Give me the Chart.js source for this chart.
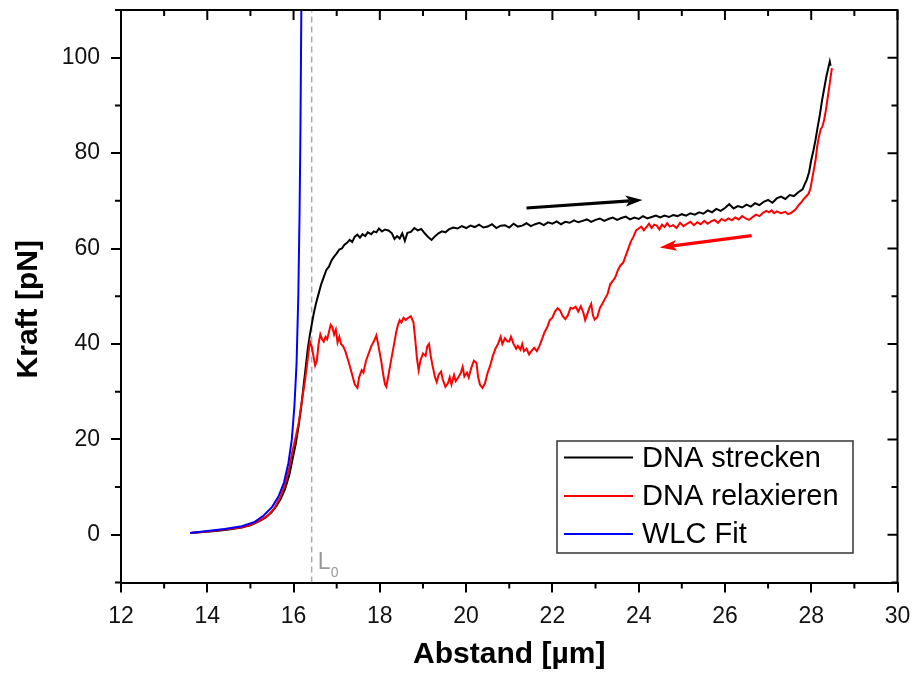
<!DOCTYPE html>
<html><head><meta charset="utf-8">
<script src="https://cdn.jsdelivr.net/npm/chart.js@4.4.1/dist/chart.umd.min.js"></script>
<style>html,body{margin:0;padding:0;background:#fff}#wrap{width:913px;height:677px;position:relative}</style>
</head><body><div id="wrap"><canvas id="c"></canvas></div>
<script>
const seriesNames = ['DNA strecken', 'DNA relaxieren', 'WLC Fit'];
const xTitle = 'Abstand [µm]';
const yTitle = 'Kraft [pN]';
const xTicks = [12, 14, 16, 18, 20, 22, 24, 26, 28, 30];
const yTicks = [0, 20, 40, 60, 80, 100];
const L0 = 16.42;

const streckenX = [13.6,13.9,14.2,14.5,14.8,15.0,15.2,15.35,15.5,15.6,15.7,15.8,15.9,15.98,16.05,16.12,16.18,16.23,16.28,16.33,16.38,16.42,16.47,16.52,16.58,16.64,16.7,16.76,16.82,16.88,16.94,17.0,17.06,17.12,17.18,17.24,17.3,17.36,17.42,17.48,17.54,17.6,17.66,17.72,17.8,17.86,17.92,17.98,18.05,18.12,18.2,18.28,18.34,18.4,18.46,18.52,18.58,18.64,18.72,18.8,18.88,18.96,19.04,19.12,19.2,19.28,19.36,19.44,19.52,19.6,19.7,19.8,19.9,20.0,20.1,20.2,20.3,20.4,20.5,20.6,20.7,20.8,20.9,21.0,21.1,21.2,21.3,21.4,21.5,21.6,21.7,21.8,21.9,22.0,22.1,22.2,22.3,22.4,22.5,22.6,22.7,22.8,22.9,23.0,23.1,23.2,23.3,23.4,23.5,23.6,23.7,23.8,23.9,24.0,24.1,24.2,24.3,24.4,24.5,24.6,24.7,24.8,24.9,25.0,25.1,25.2,25.3,25.4,25.5,25.6,25.7,25.8,25.9,26.0,26.1,26.2,26.3,26.4,26.5,26.6,26.7,26.8,26.9,27.0,27.1,27.2,27.3,27.4,27.5,27.6,27.7,27.8,27.85,27.9,27.95,28.0,28.05,28.1,28.15,28.2,28.25,28.3,28.35,28.4,28.43,28.45];
const streckenY = [0.4,0.6,0.8,1.1,1.5,2.0,2.8,3.6,4.8,6.0,7.5,9.5,12.5,16,19,23,27,31,35,39,42,44,46.5,48.5,50.5,52.5,54,55.5,56.2,57.5,58.3,59,59.8,60,60.8,61.2,61.8,61.4,62.5,62.9,62.3,63.0,62.6,63.4,63.0,63.6,63.4,64.2,63.6,64.0,63.8,63.2,62.0,62.6,62.1,63.2,61.6,63.3,63.5,64.3,63.8,64.1,63.2,62.4,61.8,62.6,63.2,63.6,63.4,64.0,64.4,64.2,64.7,64.3,64.8,64.5,65.0,64.4,64.6,65.1,64.3,64.8,64.9,64.4,65.2,64.6,64.8,65.3,64.7,65.1,65.4,64.9,65.5,65.2,65.7,65.1,65.6,65.4,65.9,65.5,65.8,66.1,65.6,66.0,66.3,65.8,66.2,66.5,66.0,66.4,66.7,66.1,66.5,66.2,66.8,66.3,66.6,66.9,66.5,66.9,66.6,67.0,66.8,67.2,66.9,67.4,67.1,67.6,67.3,68.0,67.6,68.3,67.9,68.5,69.3,68.4,68.9,68.6,69.2,68.8,69.5,69.1,69.8,70.2,69.6,70.5,70.9,70.4,71.2,71.0,71.8,72.4,73.5,74.5,76,78.5,80.5,82.8,85.5,88,91,93.5,96,98,99.2,98.3];

const relaxX = [13.6,13.9,14.2,14.5,14.8,15.0,15.2,15.4,15.55,15.7,15.8,15.9,15.98,16.05,16.12,16.2,16.26,16.31,16.35,16.38,16.42,16.46,16.5,16.54,16.58,16.62,16.66,16.7,16.74,16.78,16.82,16.86,16.9,16.94,16.98,17.02,17.06,17.1,17.15,17.2,17.25,17.3,17.36,17.42,17.48,17.52,17.58,17.62,17.68,17.74,17.8,17.86,17.92,17.96,18.0,18.04,18.08,18.12,18.15,18.2,18.26,18.32,18.38,18.42,18.46,18.5,18.55,18.6,18.66,18.72,18.78,18.82,18.86,18.9,18.94,19.0,19.06,19.1,19.14,19.18,19.22,19.28,19.32,19.36,19.42,19.46,19.52,19.58,19.62,19.66,19.72,19.76,19.82,19.88,19.92,19.96,20.02,20.06,20.12,20.18,20.24,20.28,20.32,20.38,20.44,20.5,20.56,20.62,20.68,20.74,20.8,20.84,20.9,20.96,21.0,21.04,21.1,21.16,21.2,21.26,21.3,21.34,21.4,21.46,21.52,21.58,21.64,21.7,21.76,21.82,21.88,21.94,22.0,22.06,22.12,22.18,22.24,22.3,22.36,22.42,22.48,22.54,22.6,22.66,22.72,22.76,22.8,22.86,22.9,22.94,22.98,23.04,23.1,23.16,23.22,23.28,23.34,23.4,23.46,23.52,23.58,23.64,23.7,23.76,23.82,23.88,23.94,24.0,24.06,24.12,24.18,24.24,24.3,24.36,24.42,24.48,24.54,24.6,24.66,24.72,24.8,24.88,24.96,25.04,25.12,25.2,25.28,25.36,25.44,25.52,25.6,25.68,25.76,25.84,25.92,26.0,26.08,26.16,26.24,26.32,26.4,26.48,26.56,26.64,26.72,26.8,26.88,26.96,27.02,27.08,27.14,27.2,27.3,27.4,27.46,27.52,27.58,27.64,27.7,27.76,27.82,27.88,27.94,27.98,28.02,28.06,28.1,28.14,28.18,28.22,28.26,28.3,28.34,28.38,28.42,28.45,28.48];
const relaxY = [0.4,0.6,0.9,1.2,1.6,2.1,2.9,4.0,5.5,8,10.5,14,17.8,20.5,23.5,28.5,32,35.5,38.5,40.5,39.5,37.5,35.5,36.5,40.0,42.0,41.0,40.5,41.5,41.0,42.5,44.0,43.5,42.0,43.0,40.3,41.5,40.0,39.5,38.5,37.0,35.5,33.5,31.5,30.8,33.0,34.5,34.0,36.5,38.0,39.5,40.5,41.8,40.0,38.0,36.0,33.5,31.5,31.0,33.5,36.5,39.5,42.5,44.0,45.0,44.5,45.5,45.0,45.5,45.8,44.5,41.0,37.0,34.5,36.5,38.0,37.5,39.5,40.0,37.5,35.5,33.0,32.0,33.5,34.2,32.5,31.0,31.8,33.0,31.5,33.5,32.2,33.0,34.0,35.2,33.2,34.0,33.0,35.0,36.5,36.0,33.0,31.5,30.8,31.8,34.0,35.5,37.5,39.0,40.0,41.5,40.0,41.2,40.5,40.5,41.5,40.0,39.0,39.6,38.8,40.0,38.5,39.0,37.8,38.6,39.2,38.5,39.6,41.0,42.5,43.5,45.0,45.5,46.8,47.5,47.0,45.8,45.2,46.0,47.6,47.4,47.8,46.8,47.9,46.5,45.0,46.0,47.6,48.4,46.0,45.1,45.6,47.5,48.5,49.5,50.5,52.5,53.2,54.0,55.5,56.5,57.0,58.5,60.0,61.5,62.5,63.8,64.2,64.6,63.8,64.5,65.2,64.3,65.0,64.8,64.0,65.0,64.5,65.3,64.6,64.9,64.3,65.4,64.7,65.2,65.6,64.9,65.5,65.1,65.8,65.2,65.7,66.0,65.4,66.2,65.8,66.3,65.9,66.5,66.1,66.8,66.3,66.0,66.6,67.1,66.8,67.5,67.9,67.6,68.0,67.4,67.8,67.4,67.7,67.2,67.4,67.8,68.2,69.0,69.6,70.3,70.9,71.5,72.5,74.5,76.5,78.5,81.5,83.5,85.0,85.6,87.0,89.0,91.5,94,96,97.8];

const wlcX = [13.6,14.0,14.4,14.8,15.1,15.3,15.5,15.65,15.78,15.88,15.96,16.02,16.07,16.11,16.14,16.16,16.18,16.2];
const wlcY = [0.4,0.8,1.2,1.8,2.7,4.0,5.8,8.0,11,15,20,27,36,50,68,85,110,130];

const arrowStreckenX = [21.40, 24.09];
const arrowStreckenY = [68.5, 70.2];
const arrowRelaxX = [26.62, 24.49];
const arrowRelaxY = [62.7, 60.2];

const toPts = (xs, ys) => xs.map((v, i) => ({x: v, y: ys[i]}));

function arrow(ctx, x0, y0, x1, y1, color) {
  const ang = Math.atan2(y1 - y0, x1 - x0);
  const hl = 17, hw = 5.5;
  const bx = x1 - hl * Math.cos(ang), by = y1 - hl * Math.sin(ang);
  ctx.strokeStyle = color; ctx.fillStyle = color; ctx.lineWidth = 3.2; ctx.lineCap = 'butt';
  ctx.beginPath(); ctx.moveTo(x0, y0); ctx.lineTo(bx + 4 * Math.cos(ang), by + 4 * Math.sin(ang)); ctx.stroke();
  ctx.beginPath();
  ctx.moveTo(x1, y1);
  ctx.lineTo(bx + hw * Math.sin(ang), by - hw * Math.cos(ang));
  ctx.lineTo(bx + 4 * Math.cos(ang), by + 4 * Math.sin(ang));
  ctx.lineTo(bx - hw * Math.sin(ang), by + hw * Math.cos(ang));
  ctx.closePath(); ctx.fill();
}

const decor = {
  id: 'decor',
  afterDatasetsDraw(chart) {
    const {ctx, chartArea: a, scales: {x, y}} = chart;
    ctx.save();
    arrow(ctx, x.getPixelForValue(arrowStreckenX[0]), y.getPixelForValue(arrowStreckenY[0]),
          x.getPixelForValue(arrowStreckenX[1]), y.getPixelForValue(arrowStreckenY[1]), '#000');
    arrow(ctx, x.getPixelForValue(arrowRelaxX[0]), y.getPixelForValue(arrowRelaxY[0]),
          x.getPixelForValue(arrowRelaxX[1]), y.getPixelForValue(arrowRelaxY[1]), '#ff0000');
    // L0 label
    const lx = x.getPixelForValue(L0);
    ctx.fillStyle = '#999';
    ctx.textBaseline = 'alphabetic'; ctx.textAlign = 'left';
    ctx.font = '23px "Liberation Sans", Arial, sans-serif';
    ctx.fillText('L', lx + 6, a.bottom - 13.5);
    ctx.font = '14px "Liberation Sans", Arial, sans-serif';
    ctx.fillText('0', lx + 19, a.bottom - 5.5);
    // frame: top and right
    ctx.strokeStyle = '#000'; ctx.lineWidth = 2;
    ctx.beginPath(); ctx.moveTo(a.left - 1, a.top); ctx.lineTo(a.right, a.top); ctx.lineTo(a.right, a.bottom + 1); ctx.stroke();
    // ticks
    ctx.beginPath();
    for (let v = 12; v <= 30; v += 1) {
      const px = x.getPixelForValue(v);
      const major = v % 2 === 0;
      const L = major ? 10 : 6;
      ctx.moveTo(px, a.top); ctx.lineTo(px, a.top + L);
      if (!major) { ctx.moveTo(px, a.bottom); ctx.lineTo(px, a.bottom + 6); }
    }
    for (let v = -10; v <= 110; v += 10) {
      const py = y.getPixelForValue(v);
      const major = v % 20 === 0;
      const L = major ? 10 : 6;
      ctx.moveTo(a.right, py); ctx.lineTo(a.right - L, py);
      if (!major) { ctx.moveTo(a.left, py); ctx.lineTo(a.left - 6, py); }
    }
    ctx.stroke();
    // y axis title
    ctx.save();
    ctx.translate(29, (a.top + a.bottom) / 2 + 13);
    ctx.rotate(-Math.PI / 2);
    ctx.font = 'bold 30px "Liberation Sans", Arial, sans-serif';
    ctx.fillStyle = '#000'; ctx.textAlign = 'center'; ctx.textBaseline = 'middle';
    ctx.fillText(yTitle, 0, 0);
    ctx.restore();
    // legend
    const bx = 557, by = 441, bw = 296, bh = 112;
    ctx.lineWidth = 1.5; ctx.strokeStyle = '#333';
    ctx.fillStyle = '#fff';
    ctx.fillRect(bx, by, bw, bh);
    ctx.strokeRect(bx, by, bw, bh);
    const colors = ['#000', '#ff0000', '#0000ff'];
    const rows = [457.5, 496, 534];
    ctx.font = '29px "Liberation Sans", Arial, sans-serif';
    ctx.textBaseline = 'middle'; ctx.textAlign = 'left';
    seriesNames.forEach((n, i) => {
      ctx.strokeStyle = colors[i]; ctx.lineWidth = 2;
      ctx.beginPath(); ctx.moveTo(564, rows[i]); ctx.lineTo(633, rows[i]); ctx.stroke();
      ctx.fillStyle = '#000';
      ctx.fillText(n, 642, rows[i] + 1);
    });
    ctx.restore();
  }
};

const tickFont = {family: '"Liberation Sans", Arial, sans-serif', size: 23};
const titleFont = {family: '"Liberation Sans", Arial, sans-serif', size: 30, weight: 'bold'};
const noPad = s => { s.paddingTop = 0; s.paddingBottom = 0; s.paddingLeft = 0; s.paddingRight = 0; };

new Chart(document.getElementById('c'), {
  type: 'scatter',
  data: {
    datasets: [
      {label: seriesNames[0], data: toPts(streckenX, streckenY), showLine: true, borderColor: '#000', borderWidth: 2, pointRadius: 0, order: 2},
      {label: seriesNames[1], data: toPts(relaxX, relaxY), showLine: true, borderColor: '#ff0000', borderWidth: 2, pointRadius: 0, order: 1},
      {label: seriesNames[2], data: toPts(wlcX, wlcY), showLine: true, borderColor: '#0000ff', borderWidth: 2, pointRadius: 0, order: 0},
      {label: 'L0', data: [{x: L0, y: -10}, {x: L0, y: 110}], showLine: true, borderColor: '#aaaaaa', borderWidth: 1.5, borderDash: [6, 4], pointRadius: 0, order: 3}
    ]
  },
  options: {
    responsive: true, maintainAspectRatio: false, animation: false, devicePixelRatio: 1,
    layout: {padding: {left: 0, right: 15.5, top: 10, bottom: 0}},
    plugins: {legend: {display: false}, tooltip: {enabled: false}},
    scales: {
      x: {
        type: 'linear', min: 12, max: 30, position: 'bottom',
        afterBuildTicks: s => { s.ticks = xTicks.map(v => ({value: v})); },
        afterFit: s => { s.height = 94.5; noPad(s); },
        ticks: {font: tickFont, color: '#111', padding: 10, maxRotation: 0, autoSkip: false},
        grid: {display: true, drawOnChartArea: false, drawTicks: true, tickLength: 10, color: '#000', lineWidth: 2},
        border: {display: true, color: '#000', width: 2},
        title: {display: true, text: xTitle, font: titleFont, color: '#000', padding: {top: 0, bottom: 4}}
      },
      y: {
        type: 'linear', min: -10, max: 110, position: 'left',
        afterBuildTicks: s => { s.ticks = yTicks.map(v => ({value: v})); },
        afterFit: s => { s.width = 121; noPad(s); },
        ticks: {font: tickFont, color: '#111', padding: 11},
        grid: {display: true, drawOnChartArea: false, drawTicks: true, tickLength: 10, color: '#000', lineWidth: 2},
        border: {display: true, color: '#000', width: 2},
        title: {display: false, text: yTitle}
      }
    }
  },
  plugins: [decor]
});
</script></body></html>
